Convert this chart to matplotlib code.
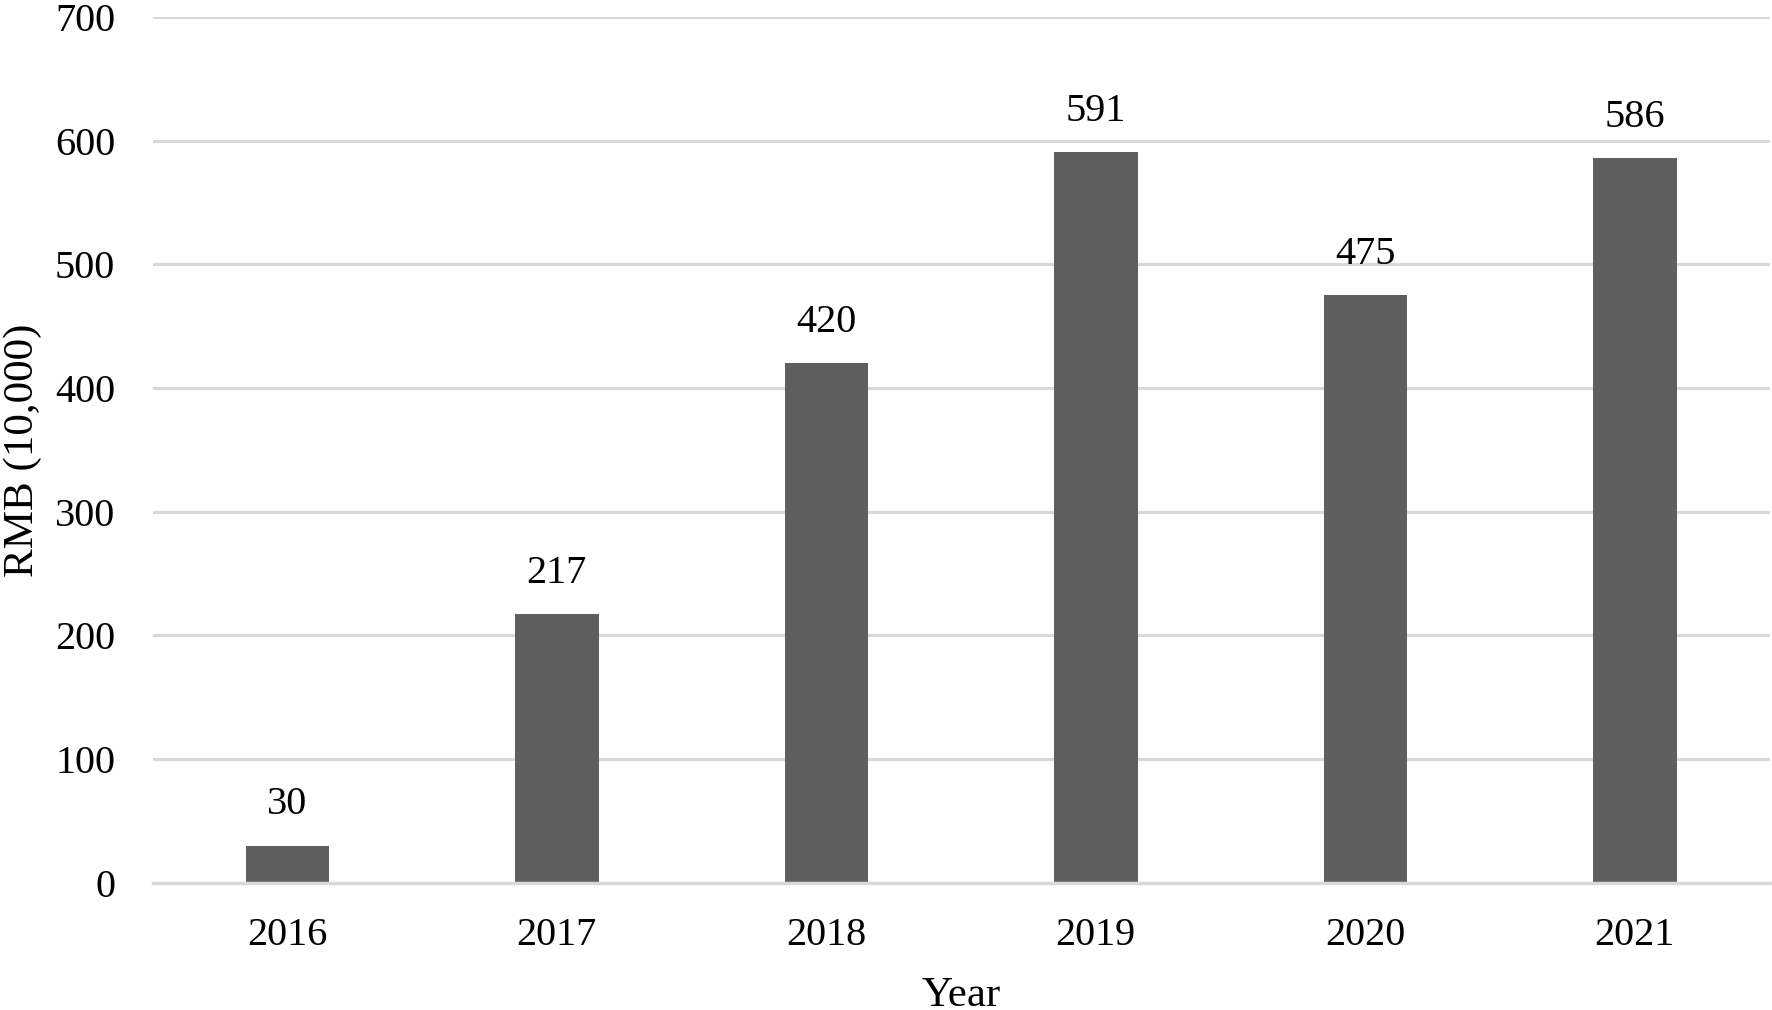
import matplotlib
matplotlib.use("Agg")
import matplotlib.pyplot as plt

years = ["2016", "2017", "2018", "2019", "2020", "2021"]
values = [30, 217, 420, 591, 475, 586]
yticks = [0, 100, 200, 300, 400, 500, 600, 700]

plt.rcParams['font.family'] = ['Liberation Serif', 'DejaVu Serif']

fig = plt.figure(figsize=(17.72, 10.10), dpi=100)
ax = fig.add_axes([0.0861, 0.1261, 0.9125, 0.8569])

x = list(range(len(years)))
bars = ax.bar(x, values, width=0.31, color="#5f5f5f", zorder=3)
for xi, v in zip(x, values):
    ax.annotate(str(v), (xi, v), xytext=(0, 16), textcoords="offset points",
                ha="center", va="bottom", fontsize=29)

ax.set_xlim(-0.5, len(years) - 0.5)
ax.set_ylim(0, 700)
ax.set_yticks(yticks)
ax.set_xticks(x)
ax.set_xticklabels(years)
ax.tick_params(axis="both", length=0, labelsize=29)
ax.tick_params(axis="x", pad=25)
ax.tick_params(axis="y", pad=27)
ax.yaxis.grid(True, color="#d9d9d9", linewidth=2.2, zorder=0)
ax.set_axisbelow(True)
for s in ["top", "right", "left"]:
    ax.spines[s].set_visible(False)
ax.spines["bottom"].set_color("#d9d9d9")
ax.spines["bottom"].set_linewidth(2.5)
ax.spines["bottom"].set_zorder(4)

ax.set_xlabel("Year", fontsize=31, labelpad=16)
ax.set_ylabel("RMB (10,000)", fontsize=31, labelpad=9)

fig.savefig("out.png", dpi=100)
